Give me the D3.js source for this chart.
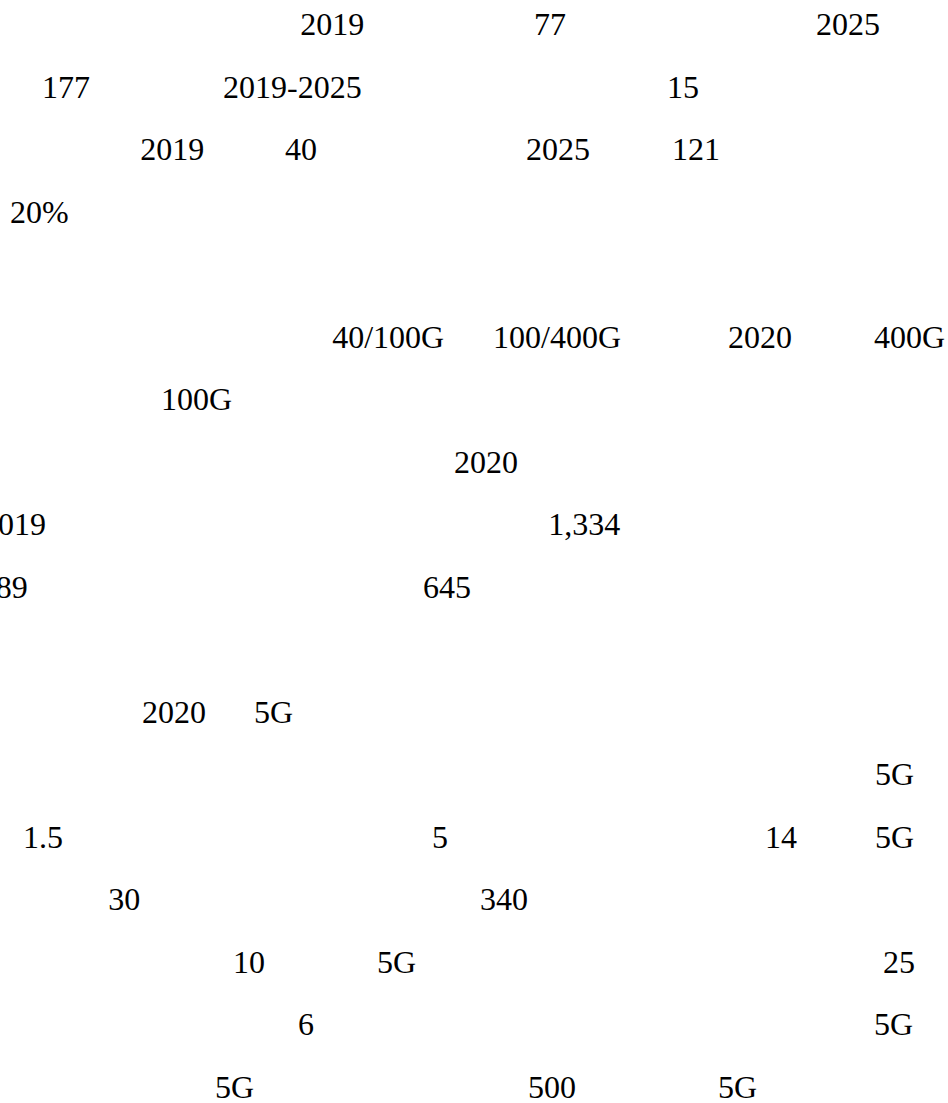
<!DOCTYPE html>
<html>
<head>
<meta charset="utf-8">
<script src="https://cdn.jsdelivr.net/npm/d3@7"></script>
</head>
<body style="margin:0">
<svg width="948" height="1103"></svg>
<script>
// select the svg
const svg = d3.select("svg");

// size of the page
const width = 948;

// the visible pieces of each line (the rest of the page is blank)
const line0 = ["2019", "77", "2025"];
const line1 = ["177", "2019-2025", "15"];
const line2 = ["2019", "40", "2025", "121"];
const line3 = ["20%"];
const line5 = ["40/100G", "100/400G", "2020", "400G"];
const line6 = ["100G"];
const line7 = ["2020"];
const line8 = ["2019", "1,334"];
const line9 = ["189", "645"];
const line11 = ["2020", "5G"];
const line12 = ["5G"];
const line13 = ["1.5", "5", "14", "5G"];
const line14 = ["30", "340"];
const line15 = ["10", "5G", "25"];
const line16 = ["6", "5G"];
const line17 = ["5G", "500", "5G"];

// column of each piece, in em of the text
const cols0 = [9.38, 16.69, 25.5];
const cols1 = [1.31, 6.97, 20.84];
const cols2 = [4.38, 8.91, 16.44, 21.0];
const cols3 = [0.31];
const cols5 = [10.38, 15.41, 22.75, 27.31];
const cols6 = [5.03];
const cols7 = [14.19];
const cols8 = [-0.56, 17.13];
const cols9 = [-0.63, 13.22];
const cols11 = [4.44, 7.94];
const cols12 = [27.34];
const cols13 = [0.72, 13.5, 23.91, 27.34];
const cols14 = [3.38, 15.0];
const cols15 = [7.28, 11.78, 27.59];
const cols16 = [9.31, 27.31];
const cols17 = [6.72, 16.5, 22.44];

// line number, pieces and columns together
const lines = [
    [0, line0, cols0], [1, line1, cols1], [2, line2, cols2], [3, line3, cols3],
    [5, line5, cols5], [6, line6, cols6], [7, line7, cols7], [8, line8, cols8],
    [9, line9, cols9], [11, line11, cols11], [12, line12, cols12], [13, line13, cols13],
    [14, line14, cols14], [15, line15, cols15], [16, line16, cols16], [17, line17, cols17]
];

// font size
const fontSize = 32;

// x scale: em column to pixels
const xScale = d3.scaleLinear()
    .domain([0, width / fontSize])
    .range([0, width]);

// y scale: line number to baseline
const yScale = d3.scaleLinear()
    .domain([0, 17])
    .range([35, 1097.5]);

// flatten to one list of pieces
const pieces = [];
lines.forEach(function(l) {
    l[1].forEach(function(t, i) {
        pieces.push({ line: l[0], text: t, col: l[2][i] });
    });
});

// draw the text
svg.selectAll("text")
    .data(pieces)
    .enter()
    .append("text")
    .attr("x", function(d) {
        return xScale(d.col);
    })
    .attr("y", function(d) {
        return yScale(d.line);
    })
    .attr("font-size", 32)
    .attr("font-family", "'Liberation Serif'")
    .text(function(d) {
        return d.text;
    });
</script>
</body>
</html>
